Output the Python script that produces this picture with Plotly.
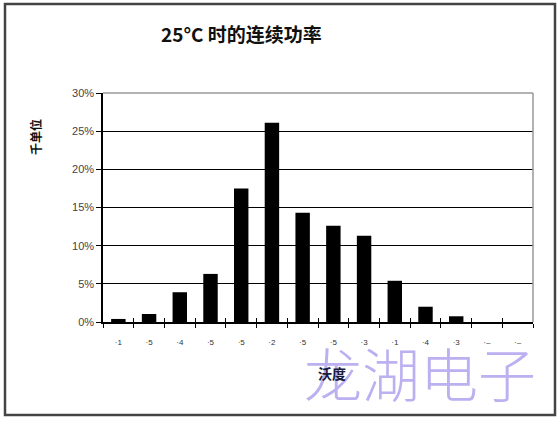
import plotly.graph_objects as go

categories = [f"c{i}" for i in range(1, 15)]
tick_labels = ["·1", "·5", "·4", "·5", "·5", "·2", "·5", "·5", "·3", "·1", "·4", "·3", "·–", "·–"]
values = [0.4, 1.05, 3.9, 6.3, 17.5, 26.1, 14.3, 12.6, 11.3, 5.4, 2.0, 0.75, 0.0, 0.0]
y_ticks = [0, 5, 10, 15, 20, 25, 30]
y_tick_labels = [f"{v}%" for v in y_ticks]

title_text = "25°C 时的连续功率"
x_title = "沃度"
y_title = "千单位"
watermark = "龙湖电子"

W, H = 560, 422
L, R, T, B = 103, 27, 93, 100
pw, ph = W - L - R, H - T - B

def px(x):
    return (x - L) / pw

def py(y):
    return (H - B - y) / ph

fig = go.Figure()
fig.add_trace(go.Bar(x=categories, y=values, marker=dict(color="black", line=dict(width=0)),
                     hoverinfo="skip"))

fig.update_layout(
    width=W, height=H,
    margin=dict(l=L, r=R, t=T, b=B, pad=0),
    paper_bgcolor="white", plot_bgcolor="white",
    showlegend=False, bargap=0.53,
    font=dict(family="Arial, Liberation Sans, sans-serif", color="#333"),
    xaxis=dict(type="category", tickmode="array", tickvals=categories, ticktext=tick_labels,
               tickangle=0, tickfont=dict(size=8, color="#333"), showgrid=False,
               showline=True, linecolor="black", linewidth=1.5,
               ticks="outside", ticklen=4, tickcolor="black", tickson="boundaries",
               ticklabelstandoff=12, range=[-0.5, 13.5]),
    yaxis=dict(range=[0, 30], tickmode="array", tickvals=y_ticks, ticktext=y_tick_labels,
               tickfont=dict(size=11, color="#444"), showgrid=True, gridcolor="black",
               gridwidth=1, showline=True, linecolor="black", linewidth=1.5,
               ticks="outside", ticklen=5, tickcolor="black", zeroline=False),
    xaxis2=dict(overlaying="x", type="category", tickmode="array", tickvals=categories,
                ticktext=[""] * 14, ticks="inside", ticklen=4, tickcolor="black",
                tickson="boundaries", showgrid=False, showline=False, side="bottom",
                range=[-0.5, 13.5], anchor="y"),
)

fig.add_trace(go.Scatter(x=categories, y=[None] * 14, xaxis="x2", showlegend=False,
                         hoverinfo="skip"))

# plot area top/right border (gray)
fig.add_shape(type="line", xref="paper", yref="paper", x0=0, x1=1, y0=1, y1=1,
              line=dict(color="#999", width=1.5), layer="above")
fig.add_shape(type="line", xref="paper", yref="paper", x0=1, x1=1, y0=0, y1=1,
              line=dict(color="#999", width=1.5), layer="above")

# outer frame
fig.add_shape(type="rect", xref="paper", yref="paper",
              x0=px(5), x1=px(555), y0=py(415), y1=py(4),
              line=dict(color="#444", width=2.5), layer="above")

fig.add_annotation(text=f"<b>{title_text}</b>", xref="paper", yref="paper",
                   x=px(159), y=py(33), xanchor="left", yanchor="middle", showarrow=False,
                   font=dict(size=19, color="#111", family="Noto Sans CJK SC"))

# watermark
fig.add_annotation(text=watermark, xref="paper", yref="paper",
                   x=px(420), y=py(372), xanchor="center", yanchor="middle", showarrow=False,
                   font=dict(size=58, color="#bdb0f0", family="Noto Sans CJK SC", weight=300))

fig.add_annotation(text=f"<b>{x_title}</b>", xref="paper", yref="paper",
                   x=px(332), y=py(373), xanchor="center", yanchor="middle", showarrow=False,
                   font=dict(size=14, color="#1a1a3a", family="Noto Sans CJK SC"))

fig.add_annotation(text=f"<b>{y_title}</b>", xref="paper", yref="paper",
                   x=px(35), y=py(137), xanchor="center", yanchor="middle", showarrow=False,
                   textangle=-90,
                   font=dict(size=12, color="#111", family="Noto Sans CJK SC"))

fig.write_html("out.html", config={"displayModeBar": False})

with open("out.html", encoding="utf-8") as f:
    html = f.read()
html = html.replace("<head>", "<head><style>html,body{margin:0;padding:0;overflow:hidden}</style>", 1)
with open("out.html", "w", encoding="utf-8") as f:
    f.write(html)
